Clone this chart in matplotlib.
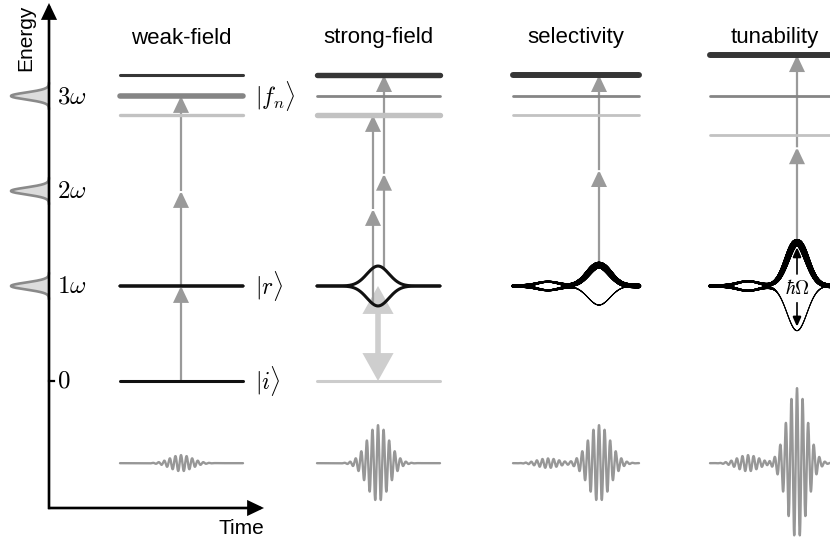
import numpy as np
import matplotlib
matplotlib.use("Agg")
import matplotlib.pyplot as plt
from matplotlib.collections import LineCollection
from matplotlib.patches import FancyArrowPatch

plt.rcParams["mathtext.fontset"] = "cm"
plt.rcParams["font.family"] = ["Liberation Sans", "DejaVu Sans"]

# ---- energy scale (in units of the photon energy) ----
tick_energies = [0, 1, 2, 3]
tick_labels = [r"$0$", r"$1\omega$", r"$2\omega$", r"$3\omega$"]
spectrum_lines = [1, 2, 3]

# ---- panels ----
panel_titles = ["weak-field", "strong-field", "selectivity", "tunability"]
panel_start = [120, 317, 513, 710]
panel_end = [243, 440, 639, 845]

initial_energy = 0.0
resonant_energy = 1.0
final_energies = [[3.22, 3.00, 2.80],
                  [3.22, 3.00, 2.80],
                  [3.22, 3.00, 2.80],
                  [3.43, 3.00, 2.59]]
pulse_axis_energy = -0.865

# laser sub-pulses of each panel: centre time, peak field, envelope width
pulse_centres = [[181], [378], [548, 599], [748, 797]]
pulse_fields = [[0.085], [0.40], [0.05, 0.40], [0.085, 0.79]]
pulse_durations = [[11], [11], [11, 11], [11, 10]]
carrier_period = 5.6

# light-induced splitting of |r> caused by each sub-pulse (upper / lower branch)
stark_up = [[0.0], [0.21], [0.045, 0.22], [0.05, 0.46]]
stark_down = [[0.0], [0.21], [0.045, 0.20], [0.05, 0.47]]

# multiphoton ladders: panel, time, starting state, index of the final level reached
ladder_panel = [0, 1, 1, 2, 3]
ladder_time = [181, 373, 384, 599, 797]
ladder_start = ["i", "down", "up", "up", "up"]
ladder_target = [1, 2, 0, 0, 0]

# ---- styles ----
LEVEL_COLORS = ["#363636", "#858585", "#c2c2c2"]
LEVEL_WIDTHS = [[2.2, 4.0, 2.4], [3.9, 2.0, 3.9], [4.3, 2.0, 2.0], [4.3, 2.0, 2.0]]
PHOTON_COLOR = "#9a9a9a"
PULSE_COLOR = "#979797"

E_BOTTOM, E_TOP = (381 - 541) / 95, 381 / 95

fig = plt.figure(figsize=(8.3, 5.41), dpi=100)
ax = fig.add_axes([0, 0, 1, 1])
ax.set_xlim(0, 830)
ax.set_ylim(E_BOTTOM, E_TOP)
ax.axis("off")


def envelope(t, c, w):
    return np.exp(-0.5 * ((t - c) / w) ** 2)


def stark_branches(p, t):
    up = resonant_energy + sum(s * envelope(t, c, w) for s, c, w in
                               zip(stark_up[p], pulse_centres[p], pulse_durations[p]))
    dn = resonant_energy - sum(s * envelope(t, c, w) for s, c, w in
                               zip(stark_down[p], pulse_centres[p], pulse_durations[p]))
    return up, dn


def varying_line(t, e, widths, color, z):
    pts = np.column_stack([t, e])
    segs = np.stack([pts[:-1], pts[1:]], axis=1)
    lc = LineCollection(segs, linewidths=widths[:-1], colors=color,
                        capstyle="round", joinstyle="round", zorder=z)
    ax.add_collection(lc)


def arrow(p0, p1, color, lw, hl, hw, style="-|>", z=2):
    a = FancyArrowPatch(p0, p1, arrowstyle=f"{style},head_length={hl},head_width={hw}",
                        color=color, lw=lw, shrinkA=0, shrinkB=0, zorder=z,
                        joinstyle="miter", capstyle="butt", mutation_scale=1)
    ax.add_patch(a)


# ---- energy / time axes ----
corner_t, corner_e = 49, (381 - 508) / 95
arrow((corner_t, corner_e - 0.012), (corner_t, (381 - 3) / 95), "black", 1.9, 9, 4.3, z=6)
arrow((corner_t - 0.9, corner_e), (264, corner_e), "black", 1.9, 9, 4.3, z=6)
ax.text(26, (381 - 38) / 95, "Energy", rotation=90, ha="center", va="center", fontsize=15)
ax.text(241, (381 - 528) / 95, "Time", ha="center", va="center", fontsize=15)

for e, lab in zip(tick_energies, tick_labels):
    ax.text(57, e, lab, ha="left", va="center", fontsize=18)
ax.plot([corner_t, corner_t + 5], [tick_energies[0]] * 2, color="black", lw=1.6, zorder=6)

# photon spectrum drawn on the energy axis
for e0 in spectrum_lines:
    ee = np.linspace(e0 - 0.14, e0 + 0.14, 300)
    prof = corner_t - 38 * envelope(ee, e0, 0.037)
    ax.fill_betweenx(ee, prof, corner_t, color="#dcdcdc", lw=0, zorder=4)
    ax.plot(prof, ee, color="#8a8a8a", lw=1.9, zorder=5, solid_capstyle="round")

# ---- panels ----
for p, title in enumerate(panel_titles):
    t0, t1 = panel_start[p], panel_end[p]
    ax.text((t0 + min(t1, 840)) / 2, (381 - 38) / 95, title, ha="center", va="center", fontsize=16)

    # final levels |f_n>
    for k, e in enumerate(final_energies[p]):
        ax.plot([t0, t1], [e, e], color=LEVEL_COLORS[k], lw=LEVEL_WIDTHS[p][k],
                solid_capstyle="round", zorder=3)

    # resonant level |r> with its light-induced splitting
    t = np.linspace(t0, t1, 1500)
    up, dn = stark_branches(p, t)
    if p < 2:
        ax.plot(t, up, color="#111111", lw=2.2, solid_capstyle="round", zorder=4)
        ax.plot(t, dn, color="#111111", lw=2.2, solid_capstyle="round", zorder=4)
    else:
        c_big, w_big = pulse_centres[p][-1], pulse_durations[p][-1]
        c_small, w_small = pulse_centres[p][0], pulse_durations[p][0]
        ramp = 1 / (1 + np.exp(-(t - (c_big - 2.4 * w_big)) / 2.0))
        g_big = envelope(t, c_big, w_big)
        g_small = envelope(t, c_small, w_small)
        w_up = 2.4 + 1.0 * ramp + 1.4 * g_big - 0.9 * g_small
        w_dn = 2.4 - 1.7 * ramp - 0.9 * g_small
        varying_line(t, dn, w_dn, "black", 4)
        varying_line(t, up, w_up, "black", 4)

    # initial level |i>
    if p == 0:
        ax.plot([t0, t1], [initial_energy] * 2, color="#111111", lw=2.2,
                solid_capstyle="round", zorder=4)
    elif p == 1:
        ax.plot([t0, t1], [initial_energy] * 2, color="#cccccc", lw=2.2,
                solid_capstyle="round", zorder=1)

    # driving laser field
    tt = np.linspace(t0, min(t1, 840), 6000)
    field = np.zeros_like(tt)
    for c, a, w in zip(pulse_centres[p], pulse_fields[p], pulse_durations[p]):
        field += a * envelope(tt, c, w) * np.cos(2 * np.pi * (tt - c) / carrier_period)
    ax.plot(tt, pulse_axis_energy + field, color=PULSE_COLOR, lw=1.7,
            solid_capstyle="round", zorder=3)

# kets
ax.text(255, final_energies[0][1], r"$|f_n\rangle$", ha="left", va="center", fontsize=17)
ax.text(255, resonant_energy, r"$|r\rangle$", ha="left", va="center", fontsize=17)
ax.text(255, initial_energy, r"$|i\rangle$", ha="left", va="center", fontsize=17)

# multiphoton ladders
for p, tx, st, tgt in zip(ladder_panel, ladder_time, ladder_start, ladder_target):
    up, dn = stark_branches(p, np.array([tx]))
    start = {"i": initial_energy, "up": up[0], "down": dn[0]}[st]
    end = final_energies[p][tgt]
    n = int(round(end - start))
    stops = [start + k for k in range(1, n)] + [end]
    prev = start
    for s in stops:
        arrow((tx, prev), (tx, s), PHOTON_COLOR, 1.6, 9.5, 4.5, z=2)
        prev = s

# strong-field population return (double arrow)
arrow((378, resonant_energy), (378, initial_energy), "#cecece", 4.0, 14, 7.8,
      style="<|-|>", z=1)

# Rabi splitting in the tunability panel
tR = pulse_centres[3][-1]
upR, dnR = stark_branches(3, np.array([tR]))
ax.text(tR, resonant_energy - 0.03, r"$\hbar\Omega$", ha="center", va="center",
        fontsize=14, zorder=7)
arrow((tR, resonant_energy + 0.12), (tR, upR[0] - 0.05), "black", 1.2, 6, 2.6, z=7)
arrow((tR, resonant_energy - 0.17), (tR, dnR[0] + 0.04), "black", 1.2, 6, 2.6, z=7)

fig.savefig("out.png", dpi=100)
